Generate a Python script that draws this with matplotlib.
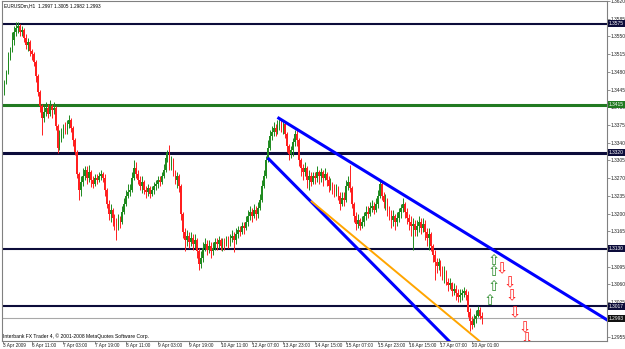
import matplotlib
matplotlib.use("Agg")
import matplotlib.pyplot as plt
import numpy as np

plt.rcParams['font.family'] = ['Liberation Sans', 'DejaVu Sans']

# EURUSDm H1 bars
bar_open = [
    1.3440, 1.3459, 1.3479, 1.3507, 1.3522, 1.3542, 1.3558, 1.3566, 1.3570, 1.3558,
    1.3562, 1.3546, 1.3534, 1.3538, 1.3522, 1.3515, 1.3499, 1.3471, 1.3440, 1.3412,
    1.3388, 1.3400, 1.3408, 1.3396, 1.3412, 1.3404, 1.3408, 1.3373, 1.3329, 1.3349,
    1.3357, 1.3369, 1.3365, 1.3377, 1.3385, 1.3369, 1.3345, 1.3322, 1.3278, 1.3247,
    1.3262, 1.3274, 1.3286, 1.3270, 1.3282, 1.3266, 1.3259, 1.3270, 1.3266, 1.3274,
    1.3278, 1.3270, 1.3247, 1.3219, 1.3199, 1.3207, 1.3192, 1.3180, 1.3176, 1.3188,
    1.3184, 1.3203, 1.3219, 1.3235, 1.3243, 1.3247, 1.3270, 1.3290, 1.3278, 1.3266,
    1.3255, 1.3262, 1.3247, 1.3243, 1.3251, 1.3239, 1.3247, 1.3255, 1.3259, 1.3266,
    1.3262, 1.3274, 1.3286, 1.3310, 1.3318, 1.3294, 1.3306, 1.3282, 1.3266, 1.3274,
    1.3255, 1.3199, 1.3164, 1.3148, 1.3156, 1.3144, 1.3152, 1.3140, 1.3148, 1.3125,
    1.3101, 1.3113, 1.3132, 1.3140, 1.3128, 1.3136, 1.3125, 1.3132, 1.3144, 1.3140,
    1.3148, 1.3136, 1.3144, 1.3140, 1.3148, 1.3144, 1.3152, 1.3156, 1.3148, 1.3160,
    1.3168, 1.3164, 1.3176, 1.3172, 1.3184, 1.3195, 1.3203, 1.3195, 1.3207, 1.3199,
    1.3211, 1.3227, 1.3255, 1.3274, 1.3306, 1.3329, 1.3353, 1.3361, 1.3369, 1.3361,
    1.3373, 1.3381, 1.3369, 1.3377, 1.3357, 1.3333, 1.3318, 1.3325, 1.3341, 1.3357,
    1.3345, 1.3306, 1.3290, 1.3282, 1.3290, 1.3266, 1.3274, 1.3262, 1.3274, 1.3270,
    1.3282, 1.3274, 1.3282, 1.3270, 1.3278, 1.3266, 1.3255, 1.3259, 1.3251, 1.3243,
    1.3251, 1.3235, 1.3219, 1.3231, 1.3227, 1.3255, 1.3262, 1.3251, 1.3219, 1.3195,
    1.3180, 1.3188, 1.3176, 1.3184, 1.3195, 1.3203, 1.3199, 1.3211, 1.3215, 1.3207,
    1.3219, 1.3235, 1.3259, 1.3235, 1.3223, 1.3227, 1.3207, 1.3199, 1.3188, 1.3195,
    1.3184, 1.3192, 1.3203, 1.3211, 1.3219, 1.3203, 1.3192, 1.3184, 1.3176, 1.3180,
    1.3168, 1.3176, 1.3184, 1.3172, 1.3180, 1.3164, 1.3152, 1.3160, 1.3136, 1.3117,
    1.3105, 1.3097, 1.3105, 1.3089, 1.3081, 1.3085, 1.3065, 1.3058, 1.3062, 1.3046,
    1.3050, 1.3042, 1.3034, 1.3038, 1.3042, 1.3046, 1.3038, 1.3006, 1.2987, 1.2979,
    1.2991, 1.2998, 1.3010, 1.2997,
]
bar_high = [
    1.3463, 1.3483, 1.3519, 1.3530, 1.3558, 1.3570, 1.3578, 1.3578, 1.3574, 1.3570,
    1.3566, 1.3554, 1.3546, 1.3542, 1.3526, 1.3519, 1.3503, 1.3475, 1.3444, 1.3416,
    1.3412, 1.3420, 1.3416, 1.3424, 1.3416, 1.3420, 1.3412, 1.3377, 1.3365, 1.3369,
    1.3377, 1.3381, 1.3385, 1.3394, 1.3388, 1.3373, 1.3349, 1.3325, 1.3282, 1.3274,
    1.3290, 1.3294, 1.3294, 1.3296, 1.3286, 1.3274, 1.3278, 1.3278, 1.3282, 1.3286,
    1.3282, 1.3278, 1.3251, 1.3227, 1.3219, 1.3211, 1.3199, 1.3192, 1.3199, 1.3195,
    1.3215, 1.3231, 1.3247, 1.3259, 1.3259, 1.3282, 1.3306, 1.3302, 1.3286, 1.3274,
    1.3274, 1.3266, 1.3255, 1.3259, 1.3255, 1.3255, 1.3262, 1.3266, 1.3274, 1.3274,
    1.3282, 1.3298, 1.3322, 1.3325, 1.3335, 1.3314, 1.3310, 1.3286, 1.3282, 1.3278,
    1.3259, 1.3203, 1.3172, 1.3168, 1.3164, 1.3164, 1.3160, 1.3160, 1.3152, 1.3132,
    1.3125, 1.3144, 1.3152, 1.3148, 1.3148, 1.3144, 1.3144, 1.3152, 1.3152, 1.3156,
    1.3152, 1.3152, 1.3152, 1.3156, 1.3156, 1.3160, 1.3168, 1.3164, 1.3172, 1.3176,
    1.3176, 1.3184, 1.3184, 1.3195, 1.3207, 1.3215, 1.3211, 1.3219, 1.3215, 1.3223,
    1.3239, 1.3266, 1.3286, 1.3314, 1.3345, 1.3365, 1.3373, 1.3381, 1.3377, 1.3385,
    1.3390, 1.3385, 1.3385, 1.3381, 1.3361, 1.3337, 1.3333, 1.3349, 1.3365, 1.3365,
    1.3349, 1.3310, 1.3298, 1.3302, 1.3294, 1.3286, 1.3282, 1.3282, 1.3282, 1.3294,
    1.3286, 1.3290, 1.3286, 1.3290, 1.3282, 1.3274, 1.3270, 1.3262, 1.3259, 1.3259,
    1.3255, 1.3243, 1.3243, 1.3243, 1.3266, 1.3274, 1.3296, 1.3255, 1.3223, 1.3203,
    1.3199, 1.3192, 1.3195, 1.3203, 1.3215, 1.3215, 1.3223, 1.3227, 1.3223, 1.3231,
    1.3247, 1.3266, 1.3262, 1.3243, 1.3239, 1.3231, 1.3215, 1.3207, 1.3207, 1.3199,
    1.3203, 1.3211, 1.3219, 1.3231, 1.3223, 1.3211, 1.3199, 1.3195, 1.3192, 1.3188,
    1.3188, 1.3195, 1.3192, 1.3192, 1.3188, 1.3172, 1.3172, 1.3164, 1.3140, 1.3128,
    1.3113, 1.3113, 1.3109, 1.3097, 1.3097, 1.3089, 1.3073, 1.3073, 1.3065, 1.3062,
    1.3058, 1.3050, 1.3050, 1.3050, 1.3054, 1.3050, 1.3046, 1.3014, 1.2998, 1.3002,
    1.3010, 1.3018, 1.3016, 1.3005,
]
bar_low = [
    1.3434, 1.3455, 1.3475, 1.3503, 1.3519, 1.3534, 1.3550, 1.3556, 1.3550, 1.3550,
    1.3538, 1.3526, 1.3522, 1.3511, 1.3503, 1.3491, 1.3459, 1.3432, 1.3400, 1.3355,
    1.3381, 1.3392, 1.3388, 1.3392, 1.3388, 1.3396, 1.3365, 1.3320, 1.3325, 1.3341,
    1.3349, 1.3357, 1.3357, 1.3369, 1.3361, 1.3333, 1.3316, 1.3270, 1.3227, 1.3235,
    1.3255, 1.3266, 1.3259, 1.3262, 1.3253, 1.3251, 1.3255, 1.3259, 1.3262, 1.3266,
    1.3262, 1.3235, 1.3211, 1.3188, 1.3184, 1.3176, 1.3168, 1.3148, 1.3168, 1.3172,
    1.3180, 1.3199, 1.3215, 1.3231, 1.3235, 1.3243, 1.3266, 1.3270, 1.3259, 1.3247,
    1.3241, 1.3239, 1.3231, 1.3235, 1.3231, 1.3235, 1.3239, 1.3247, 1.3251, 1.3255,
    1.3259, 1.3270, 1.3282, 1.3302, 1.3286, 1.3286, 1.3274, 1.3259, 1.3251, 1.3243,
    1.3188, 1.3152, 1.3125, 1.3136, 1.3132, 1.3136, 1.3128, 1.3132, 1.3113, 1.3089,
    1.3093, 1.3105, 1.3125, 1.3117, 1.3121, 1.3113, 1.3117, 1.3128, 1.3128, 1.3132,
    1.3128, 1.3125, 1.3128, 1.3136, 1.3132, 1.3136, 1.3144, 1.3123, 1.3140, 1.3152,
    1.3156, 1.3160, 1.3160, 1.3168, 1.3176, 1.3188, 1.3184, 1.3192, 1.3188, 1.3192,
    1.3207, 1.3223, 1.3251, 1.3270, 1.3302, 1.3325, 1.3345, 1.3353, 1.3353, 1.3357,
    1.3365, 1.3361, 1.3357, 1.3349, 1.3322, 1.3306, 1.3310, 1.3314, 1.3333, 1.3333,
    1.3294, 1.3274, 1.3266, 1.3274, 1.3251, 1.3247, 1.3255, 1.3259, 1.3259, 1.3262,
    1.3259, 1.3262, 1.3255, 1.3266, 1.3255, 1.3243, 1.3247, 1.3239, 1.3233, 1.3235,
    1.3227, 1.3207, 1.3215, 1.3215, 1.3223, 1.3247, 1.3243, 1.3211, 1.3184, 1.3168,
    1.3172, 1.3168, 1.3172, 1.3176, 1.3188, 1.3192, 1.3195, 1.3203, 1.3199, 1.3203,
    1.3211, 1.3231, 1.3227, 1.3211, 1.3207, 1.3195, 1.3188, 1.3172, 1.3176, 1.3168,
    1.3176, 1.3184, 1.3192, 1.3203, 1.3192, 1.3180, 1.3168, 1.3156, 1.3128, 1.3156,
    1.3156, 1.3164, 1.3160, 1.3164, 1.3148, 1.3136, 1.3128, 1.3125, 1.3105, 1.3069,
    1.3083, 1.3089, 1.3077, 1.3069, 1.3063, 1.3058, 1.3046, 1.3050, 1.3036, 1.3038,
    1.3030, 1.3026, 1.3026, 1.3030, 1.3034, 1.3030, 1.2995, 1.2967, 1.2971, 1.2975,
    1.2983, 1.2995, 1.2991, 1.2982,
]
bar_close = [
    1.3459, 1.3479, 1.3507, 1.3522, 1.3542, 1.3558, 1.3566, 1.3570, 1.3558, 1.3562,
    1.3546, 1.3534, 1.3538, 1.3522, 1.3515, 1.3499, 1.3471, 1.3440, 1.3412, 1.3388,
    1.3400, 1.3408, 1.3396, 1.3412, 1.3404, 1.3408, 1.3373, 1.3329, 1.3349, 1.3357,
    1.3369, 1.3365, 1.3377, 1.3385, 1.3369, 1.3345, 1.3322, 1.3278, 1.3247, 1.3262,
    1.3274, 1.3286, 1.3270, 1.3282, 1.3266, 1.3259, 1.3270, 1.3266, 1.3274, 1.3278,
    1.3270, 1.3247, 1.3219, 1.3199, 1.3207, 1.3192, 1.3180, 1.3176, 1.3188, 1.3184,
    1.3203, 1.3219, 1.3235, 1.3243, 1.3247, 1.3270, 1.3290, 1.3278, 1.3266, 1.3255,
    1.3262, 1.3247, 1.3243, 1.3251, 1.3239, 1.3247, 1.3255, 1.3259, 1.3266, 1.3262,
    1.3274, 1.3286, 1.3310, 1.3318, 1.3294, 1.3306, 1.3282, 1.3266, 1.3274, 1.3255,
    1.3199, 1.3164, 1.3148, 1.3156, 1.3144, 1.3152, 1.3140, 1.3148, 1.3125, 1.3101,
    1.3113, 1.3132, 1.3140, 1.3128, 1.3136, 1.3125, 1.3132, 1.3144, 1.3140, 1.3148,
    1.3136, 1.3144, 1.3140, 1.3148, 1.3144, 1.3152, 1.3156, 1.3148, 1.3160, 1.3168,
    1.3164, 1.3176, 1.3172, 1.3184, 1.3195, 1.3203, 1.3195, 1.3207, 1.3199, 1.3211,
    1.3227, 1.3255, 1.3274, 1.3306, 1.3329, 1.3353, 1.3361, 1.3369, 1.3361, 1.3373,
    1.3381, 1.3369, 1.3377, 1.3357, 1.3333, 1.3318, 1.3325, 1.3341, 1.3357, 1.3345,
    1.3306, 1.3290, 1.3282, 1.3290, 1.3266, 1.3274, 1.3262, 1.3274, 1.3270, 1.3282,
    1.3274, 1.3282, 1.3270, 1.3278, 1.3266, 1.3255, 1.3259, 1.3251, 1.3243, 1.3251,
    1.3235, 1.3219, 1.3231, 1.3227, 1.3255, 1.3262, 1.3251, 1.3219, 1.3195, 1.3180,
    1.3188, 1.3176, 1.3184, 1.3195, 1.3203, 1.3199, 1.3211, 1.3215, 1.3207, 1.3219,
    1.3235, 1.3259, 1.3235, 1.3223, 1.3227, 1.3207, 1.3199, 1.3188, 1.3195, 1.3184,
    1.3192, 1.3203, 1.3211, 1.3219, 1.3203, 1.3192, 1.3184, 1.3176, 1.3180, 1.3168,
    1.3176, 1.3184, 1.3172, 1.3180, 1.3164, 1.3152, 1.3160, 1.3136, 1.3117, 1.3105,
    1.3097, 1.3105, 1.3089, 1.3081, 1.3085, 1.3065, 1.3058, 1.3062, 1.3046, 1.3050,
    1.3042, 1.3034, 1.3038, 1.3042, 1.3046, 1.3038, 1.3006, 1.2987, 1.2979, 1.2991,
    1.2998, 1.3010, 1.2997, 1.2993,
]

# horizontal levels drawn on the chart
level_prices = [1.3575, 1.3415, 1.3320, 1.3130, 1.3017]
level_colors = ['#0c0c3a', '#217a21', '#0c0c3a', '#0c0c3a', '#0c0c3a']
level_widths = [1.5, 2.2, 2.2, 1.5, 1.5]
bid_price = 1.2993

# trend lines: two anchor points each (bar index, price)
trend_upper = [(139, 1.3390), (191, 1.3266)]
trend_lower = [(134, 1.3310), (184, 1.3114)]
trend_orange = [(156, 1.3225), (200, 1.3083)]

# arrow objects
up_arrow_bars = [249, 249, 249, 247]
up_arrow_prices = [1.3107, 1.3085, 1.3055, 1.3028]
down_arrow_bars = [253, 257, 258, 260, 265, 266]
down_arrow_prices = [1.3090, 1.3064, 1.3037, 1.3004, 1.2975, 1.2952]

price_ticks = [1.3620, 1.3585, 1.3550, 1.3515, 1.3480, 1.3445, 1.3410, 1.3375,
               1.3340, 1.3305, 1.3270, 1.3235, 1.3200, 1.3165, 1.3130, 1.3095,
               1.3060, 1.3025, 1.2990, 1.2955]
time_labels = ['3 Apr 2009', '6 Apr 11:00', '7 Apr 03:00', '7 Apr 19:00',
               '8 Apr 11:00', '9 Apr 03:00', '9 Apr 19:00', '10 Apr 11:00',
               '12 Apr 07:00', '13 Apr 23:00', '14 Apr 15:00', '15 Apr 07:00',
               '15 Apr 23:00', '16 Apr 15:00', '17 Apr 07:00', '20 Apr 01:00']
time_label_bars = [-1, 14, 30, 46, 62, 78, 94, 110, 126, 142, 158, 174, 190,
                   206, 222, 238]

header = 'EURUSDm,H1  1.2997 1.3005 1.2982 1.2993'
footer = 'Interbank FX Trader 4, \u00a9 2001-2008 MetaQuotes Software Corp.'


def ray(ax, pts, color, lw):
    # extend the line from the first anchor to the right
    (x0, y0), (x1, y1) = pts
    slope = (y1 - y0) / (x1 - x0)
    xe = 330
    ax.plot([x0, xe], [y0, y0 + slope * (xe - x0)], color=color, lw=lw,
            solid_capstyle='butt', zorder=5)


def main():
    o = np.array(bar_open)
    h = np.array(bar_high)
    l = np.array(bar_low)
    c = np.array(bar_close)
    bars = np.arange(len(c))
    colors = np.where(c >= o, '#1f8a1f', '#ff1f1f')

    fig = plt.figure(figsize=(6.25, 3.49), dpi=100)
    ax = fig.add_axes([2 / 625, 8 / 349, 605 / 625, 340 / 349])
    ax.set_xlim(-1.27, 306.8)
    ax.set_ylim(1.2948, 1.36185)

    for lvl, col, lw in zip(level_prices, level_colors, level_widths):
        ax.axhline(lvl, color=col, lw=lw, zorder=2)
    ax.axhline(bid_price, color='#a8a8a8', lw=0.8, zorder=2)

    # candles
    ax.vlines(bars, l, h, colors=colors, lw=0.7, zorder=3)
    ax.bar(bars, np.abs(c - o), bottom=np.minimum(o, c), width=0.85,
           color=colors, lw=0, zorder=3)

    ray(ax, trend_upper, '#0000ff', 2.2)
    ray(ax, trend_lower, '#0000ff', 2.2)
    ray(ax, trend_orange, '#ffa500', 1.4)

    for b, p in zip(up_arrow_bars, up_arrow_prices):
        ax.text(b, p, '\u21e7', color='#2a8a2a', fontsize=10.5, ha='center',
                va='center', family='DejaVu Sans', zorder=6)
    for b, p in zip(down_arrow_bars, down_arrow_prices):
        ax.text(b, p, '\u21e9', color='#ff2020', fontsize=10.5, ha='center',
                va='center', family='DejaVu Sans', zorder=6, clip_on=True)

    # axes look like the MT4 window
    for s in ax.spines.values():
        s.set_color('#808080')
        s.set_linewidth(0.8)
    ax.yaxis.tick_right()
    ax.set_yticks(price_ticks)
    ax.set_yticklabels([f'{p:.4f}' for p in price_ticks])
    ax.tick_params(axis='y', length=2, width=0.6, pad=0.8, labelsize=3.5,
                   color='#808080', labelcolor='#202020')
    ax.set_xticks(time_label_bars)
    ax.set_xticklabels(time_labels, ha='left')
    ax.tick_params(axis='x', length=2.5, width=0.6, pad=-1.2, labelsize=3.4,
                   color='#808080', labelcolor='#202020')

    # price labels of the levels on the right scale
    tr = ax.get_yaxis_transform()
    box_prices = level_prices + [bid_price]
    box_colors = level_colors + ['#111111']
    for p, col in zip(box_prices, box_colors):
        ax.text(1.003, p, f'{p:.4f}', transform=tr, ha='left', va='center',
                fontsize=3.5, color='white', clip_on=False, zorder=7,
                bbox=dict(boxstyle='square,pad=0.2', fc=col, ec='none'))

    ax.text(0.003, 0.994, header, transform=ax.transAxes, ha='left',
            va='top', fontsize=3.4, color='black')
    ax.text(0.002, 0.006, footer, transform=ax.transAxes, ha='left',
            va='bottom', fontsize=3.6, color='black')

    fig.savefig('out.png', dpi=100)


if __name__ == "__main__":
    main()
